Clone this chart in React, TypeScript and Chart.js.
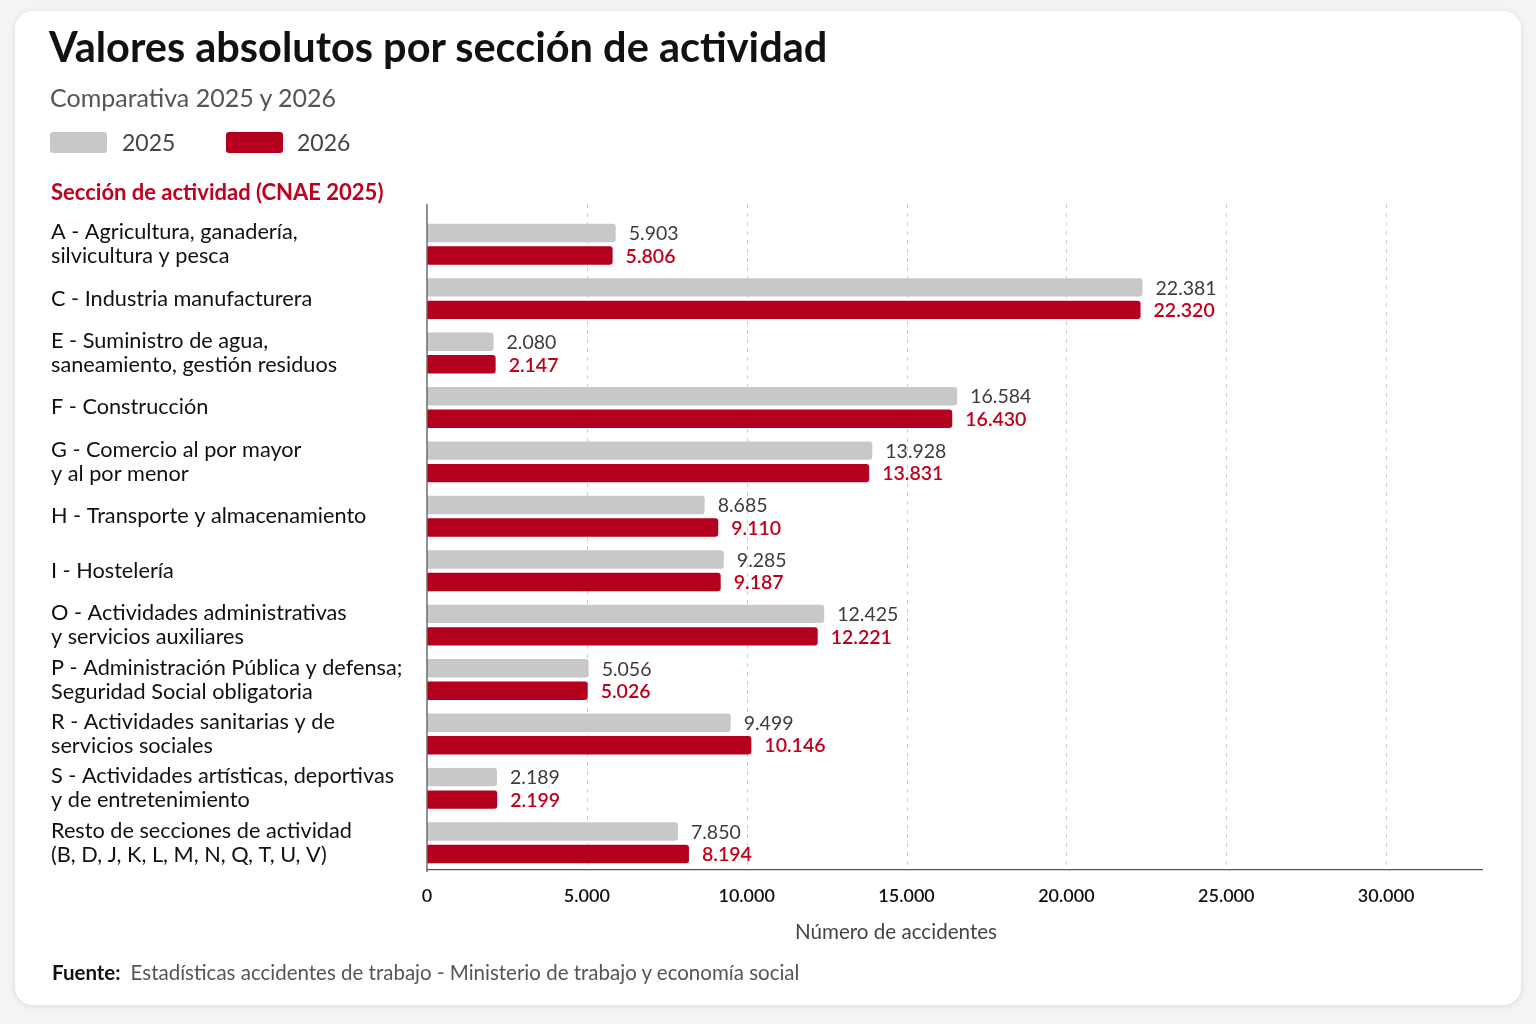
import React, { useEffect, useRef } from "react";
import { Chart, registerables } from "chart.js";

Chart.register(...registerables);

const FONT = "Lato, 'Noto Sans', sans-serif";

const categories: string[][] = [
  ["A - Agricultura, ganadería,", "silvicultura y pesca"],
  ["C - Industria manufacturera"],
  ["E - Suministro de agua,", "saneamiento, gestión residuos"],
  ["F - Construcción"],
  ["G - Comercio al por mayor", "y al por menor"],
  ["H - Transporte y almacenamiento"],
  ["I - Hostelería"],
  ["O - Actividades administrativas", "y servicios auxiliares"],
  ["P - Administración Pública y defensa;", "Seguridad Social obligatoria"],
  ["R - Actividades sanitarias y de", "servicios sociales"],
  ["S - Actividades artísticas, deportivas", "y de entretenimiento"],
  ["Resto de secciones de actividad", "(B, D, J, K, L, M, N, Q, T, U, V)"],
];
const values2025 = [5903, 22381, 2080, 16584, 13928, 8685, 9285, 12425, 5056, 9499, 2189, 7850];
const values2026 = [5806, 22320, 2147, 16430, 13831, 9110, 9187, 12221, 5026, 10146, 2199, 8194];
const seriesNames = ["2025", "2026"];
const seriesColors = ["#c8c8c8", "#b4001e"];
const labelColors = ["#3c3c3c", "#c0001c"];
const xTickValues = [0, 5000, 10000, 15000, 20000, 25000, 30000];
const xAxisMax = 33000;

const fmt = (n: number) => String(n).replace(/\B(?=(\d{3})+(?!\d))/g, ".");

const valueLabels = {
  id: "valueLabels",
  afterDatasetsDraw(chart: any) {
    const ctx = chart.ctx;
    chart.data.datasets.forEach((ds: any, di: number) => {
      const meta = chart.getDatasetMeta(di);
      meta.data.forEach((bar: any, i: number) => {
        ctx.save();
        ctx.font = `${di === 0 ? 400 : 600} 19.5px ${FONT}`;
        ctx.fillStyle = labelColors[di];
        ctx.textAlign = "left";
        ctx.textBaseline = "middle";
        ctx.fillText(fmt(ds.data[i]), bar.x + 13, bar.y + 1);
        ctx.restore();
      });
    });
  },
};

// dashed vertical grid lines at the x ticks, extended slightly above the plot
const dashedGrid = {
  id: "dashedGrid",
  beforeDatasetsDraw(chart: any) {
    const { ctx, chartArea } = chart;
    const xs = chart.scales.x;
    ctx.save();
    ctx.strokeStyle = "#cfcfcf";
    ctx.lineWidth = 1;
    ctx.setLineDash([4, 5]);
    xs.ticks.forEach((t: any) => {
      if (t.value === 0) return;
      const x = Math.round(xs.getPixelForValue(t.value)) + 0.5;
      ctx.beginPath();
      ctx.moveTo(x, chartArea.top - 13);
      ctx.lineTo(x, chartArea.bottom);
      ctx.stroke();
    });
    ctx.restore();
  },
  afterDraw(chart: any) {
    const { ctx, chartArea } = chart;
    ctx.save();
    ctx.strokeStyle = "#6b6b6b";
    ctx.lineWidth = 1.5;
    ctx.beginPath();
    ctx.moveTo(chartArea.left, chartArea.top - 13);
    ctx.lineTo(chartArea.left, chartArea.bottom + 2);
    ctx.stroke();
    ctx.restore();
  },
};

export default function App() {
  const ref = useRef<HTMLCanvasElement | null>(null);

  useEffect(() => {
    document.body.style.margin = "0";
    if (!ref.current) return;
    const chart = new Chart(ref.current, {
      type: "bar",
      data: {
        labels: categories,
        datasets: [
          {
            label: seriesNames[0],
            data: values2025,
            backgroundColor: seriesColors[0],
            borderRadius: 3,
            borderSkipped: "start",
            categoryPercentage: 0.827,
            barPercentage: 0.82,
          },
          {
            label: seriesNames[1],
            data: values2026,
            backgroundColor: seriesColors[1],
            borderRadius: 3,
            borderSkipped: "start",
            categoryPercentage: 0.827,
            barPercentage: 0.82,
          },
        ],
      },
      options: {
        indexAxis: "y",
        animation: false,
        responsive: false,
        maintainAspectRatio: false,
        layout: { padding: { left: 51, right: 54, top: 217, bottom: 112 } },
        plugins: { legend: { display: false }, tooltip: { enabled: false }, title: { display: false } },
        scales: {
          y: {
            type: "category",
            grid: { display: false },
            border: { display: false },
            ticks: {
              autoSkip: false,
              crossAlign: "far",
              padding: 0,
              color: "#111111",
              font: { family: FONT, size: 21.7, lineHeight: 24 / 21.7 },
            },
            afterFit: (s: any) => {
              s.width = 376;
            },
          },
          x: {
            type: "linear",
            min: 0,
            max: xAxisMax,
            grid: { display: false, drawTicks: false },
            border: { display: true, color: "#555555", width: 1.3 },
            ticks: {
              autoSkip: false,
              maxRotation: 0,
              minRotation: 0,
              padding: 15,
              color: "#111111",
              font: { family: FONT, size: 18, weight: 600 },
              callback: (v: any) => fmt(Number(v)),
            },
            afterBuildTicks: (s: any) => {
              s.ticks = xTickValues.map((v) => ({ value: v }));
            },
            afterFit: (s: any) => {
              s.height = 42;
            },
          },
        },
      },
      plugins: [valueLabels, dashedGrid],
    });
    return () => chart.destroy();
  }, []);

  const txt = (extra: any) => ({ position: "absolute" as const, whiteSpace: "nowrap" as const, lineHeight: 1, ...extra });

  return (
    <div style={{ position: "absolute", left: 0, top: 0, width: 1536, height: 1024, background: "#f4f4f4", fontFamily: FONT, overflow: "hidden" }}>
      <div style={{ position: "absolute", left: 15, top: 11, width: 1506, height: 994, background: "#ffffff", borderRadius: 18, boxShadow: "0 1px 6px rgba(0,0,0,0.10)" }} />
      <canvas ref={ref} width={1536} height={1024} style={{ position: "absolute", left: 0, top: 0 }} />
      <div style={txt({ left: 49, top: 26, fontSize: 41.5, fontWeight: 700, color: "#111111" })}>Valores absolutos por sección de actividad</div>
      <div style={txt({ left: 50, top: 85, fontSize: 25, color: "#555555" })}>Comparativa 2025 y 2026</div>
      <div style={{ position: "absolute", left: 50, top: 132, width: 57, height: 21, borderRadius: 3, background: seriesColors[0] }} />
      <div style={txt({ left: 122, top: 131, fontSize: 23, color: "#444444" })}>{seriesNames[0]}</div>
      <div style={{ position: "absolute", left: 226, top: 132, width: 57, height: 21, borderRadius: 3, background: seriesColors[1] }} />
      <div style={txt({ left: 297, top: 131, fontSize: 23, color: "#444444" })}>{seriesNames[1]}</div>
      <div style={txt({ left: 51, top: 181, fontSize: 22, fontWeight: 700, color: "#c0001c" })}>Sección de actividad (CNAE 2025)</div>
      <div style={txt({ left: 896, top: 921, fontSize: 20.6, color: "#444444", transform: "translateX(-50%)" })}>Número de accidentes</div>
      <div style={txt({ left: 52, top: 962, fontSize: 20.5, color: "#555555" })}>
        <span style={{ fontWeight: 700, color: "#111111" }}>Fuente:</span>
        <span style={{ marginLeft: 10 }}>Estadísticas accidentes de trabajo - Ministerio de trabajo y economía social</span>
      </div>
    </div>
  );
}
